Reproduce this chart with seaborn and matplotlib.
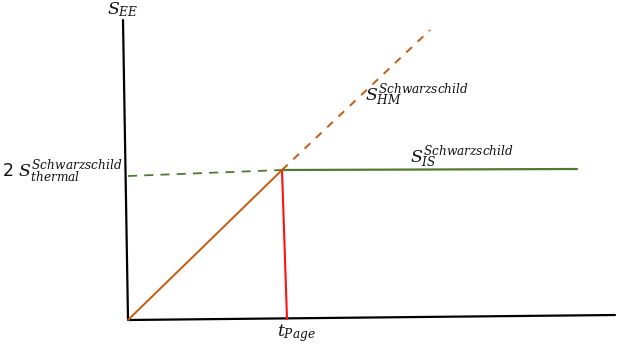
import matplotlib
matplotlib.use("Agg")
import matplotlib.pyplot as plt
import seaborn as sns
import pandas as pd

sns.set_theme(style="white")
plt.rcParams["mathtext.fontset"] = "dejavuserif"
plt.rcParams["font.family"] = ["DejaVu Sans"]
plt.rcParams["text.color"] = "#111111"

# Schematic Page curve (arbitrary units)
t_page = 154
s_plateau = 150

hm_t = [0, t_page, 302]          # Hawking / Hayden-Maldacena growth
hm_s = [0, s_plateau, 290]
is_t = [t_page, 449]             # island saturation
is_s = [s_plateau, 151]
thermal_t = [0, t_page]          # 2 S_thermal reference level
thermal_s = [144, s_plateau]
page_t = [t_page, 159]           # Page time marker
page_s = [s_plateau, 1]
xaxis_t = [0, 487]
xaxis_s = [0, 5]
yaxis_t = [0, -5]
yaxis_s = [0, 300]

ORANGE = "#C55A11"
GREEN = "#507A32"
RED = "#FF1010"

fig = plt.figure(figsize=(6.19, 3.49), dpi=100)
ax = fig.add_axes([0, 0, 1, 1])


def seg(t, s, color, ls="-", lw=1.5):
    df = pd.DataFrame({"t": t, "S": s})
    sns.lineplot(data=df, x="t", y="S", sort=False, color=color,
                 linestyle=ls, linewidth=lw, ax=ax, estimator=None)


seg(xaxis_t, xaxis_s, "black", lw=1.6)
seg(yaxis_t, yaxis_s, "black", lw=1.6)
seg(thermal_t, thermal_s, GREEN, ls=(0, (5, 4)), lw=1.3)
seg(is_t, is_s, GREEN, lw=1.6)
seg(page_t, page_s, RED, lw=1.5)
seg(hm_t[:2], hm_s[:2], ORANGE, lw=1.4)
seg(hm_t[1:], hm_s[1:], ORANGE, ls=(0, (4, 4)), lw=1.4)

ax.set_xlim(-128, 491)
ax.set_ylim(-29, 320)
ax.axis("off")

fs = 12.5
ax.text(-5, 310, r"$S_{EE}$", fontsize=fs, ha="center", va="center")
ax.text(-6, 148, r"2 $S^{Schwarzschild}_{thermal}$", fontsize=fs,
        ha="right", va="center")
ax.text(237, 225, r"$S^{Schwarzschild}_{HM}$", fontsize=fs,
        ha="left", va="center")
ax.text(282, 163, r"$S^{Schwarzschild}_{IS}$", fontsize=fs,
        ha="left", va="center")
ax.text(168, -13, r"$t_{Page}$", fontsize=fs, ha="center", va="center")

fig.savefig("out.png", dpi=100)
